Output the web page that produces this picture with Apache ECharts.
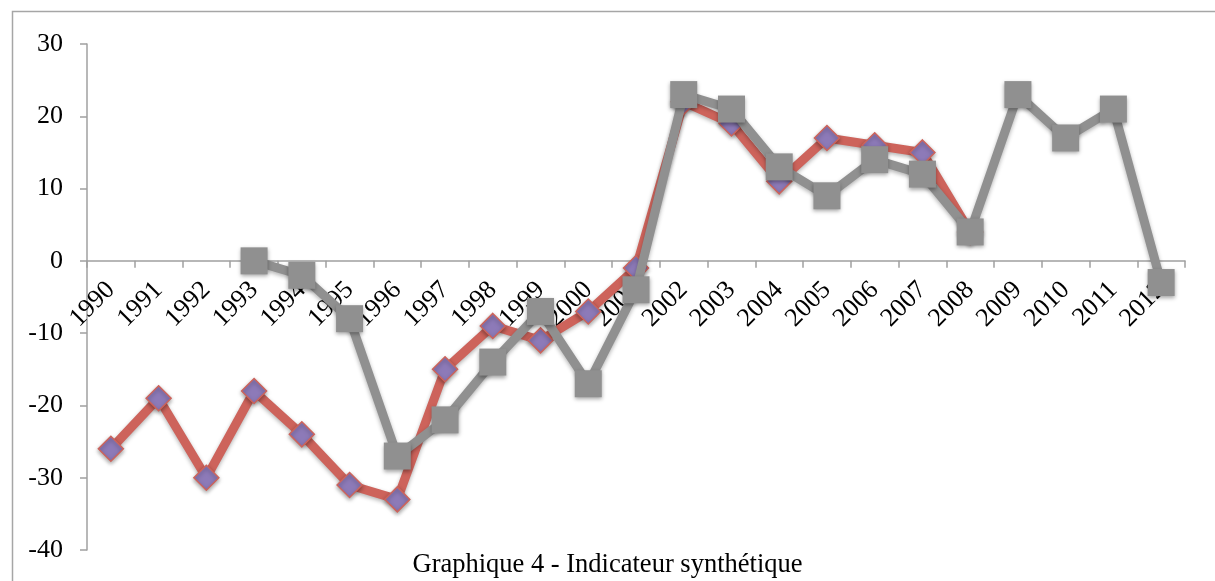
<!DOCTYPE html>
<html>
<head>
<meta charset="utf-8">
<title>Graphique 4</title>
<style>
  html, body { margin: 0; width: 100%; height: 100%; background: #fff; }
  #chart { width: 1215px; height: 581px; }
</style>
</head>
<body>
<div id="chart"></div>
<script src="https://cdn.jsdelivr.net/npm/echarts@6/dist/echarts.min.js"></script>
<script>
const years = ['1990','1991','1992','1993','1994','1995','1996','1997','1998','1999','2000','2001',
               '2002','2003','2004','2005','2006','2007','2008','2009','2010','2011','2012'];
const serieRouge = [-26,-19,-30,-18,-24,-31,-33,-15,-9,-11,-7,-1,22,19,11,17,16,15,4,null,null,null,null];
const serieGrise = [null,null,null,0,-2,-8,-27,-22,-14,-7,-17,-4,23,21,13,9,14,12,4,23,17,21,-3];
const yTicks = { min: -40, max: 30, interval: 10 };
const titre = 'Graphique 4 - Indicateur synthétique';

// grille
const W = 1215, H = 581;
const gTop = 44, gBottom = 31;
const gHeight = H - gTop - gBottom;
// axe des x placé sur le zéro (décalage vers le haut depuis le bas de la grille)
const zeroOffset = -gHeight * (0 - yTicks.min) / (yTicks.max - yTicks.min);

const chart = echarts.init(document.getElementById('chart'));
chart.setOption({
  animation: false,
  textStyle: { fontFamily: 'Liberation Serif' },
  graphic: [
    { type: 'rect', left: 10, top: 9, shape: { width: 1220, height: 590 },
      style: { fill: 'none', stroke: '#a6a6a6', lineWidth: 1.5 }, z: -1 },
    { type: 'text', left: 'center', top: 552,
      style: { text: titre, fontFamily: 'Liberation Serif', fontSize: 26.5, fill: '#000' } }
  ],
  grid: { left: 87, right: 30, top: gTop, bottom: gBottom, outerBoundsMode: 'none', containLabel: false },
  xAxis: {
    type: 'category',
    data: years,
    boundaryGap: true,
    position: 'bottom',
    offset: zeroOffset,
    axisLine: { onZero: false, lineStyle: { color: '#a0a0a0', width: 1.5 } },
    axisTick: { show: true, length: 7, lineStyle: { color: '#a0a0a0', width: 1.5 } },
    axisLabel: { rotate: 45, margin: 25, color: '#000', fontSize: 26, fontFamily: 'Liberation Serif', interval: 0, hideOverlap: false },
    splitLine: { show: false }
  },
  yAxis: {
    type: 'value',
    min: yTicks.min, max: yTicks.max, interval: yTicks.interval,
    axisLine: { show: true, lineStyle: { color: '#a0a0a0', width: 1.5 } },
    axisTick: { show: true, length: 7, lineStyle: { color: '#a0a0a0', width: 1.5 } },
    axisLabel: { color: '#000', fontSize: 26, margin: 24, fontFamily: 'Liberation Serif' },
    splitLine: { show: false }
  },
  series: [
    {
      type: 'line',
      data: serieRouge,
      symbol: 'diamond',
      symbolSize: 25,
      lineStyle: { color: '#cd635b', width: 9, shadowColor: 'rgba(0,0,0,0.3)', shadowBlur: 4, shadowOffsetY: 2 },
      itemStyle: { color: '#8d7ab8', borderColor: '#cd635b', borderWidth: 1.5,
                   shadowColor: 'rgba(0,0,0,0.35)', shadowBlur: 4, shadowOffsetY: 2 },
      z: 2
    },
    {
      type: 'line',
      data: serieGrise,
      symbol: 'rect',
      symbolSize: 27,
      lineStyle: { color: '#909090', width: 9, shadowColor: 'rgba(0,0,0,0.3)', shadowBlur: 4, shadowOffsetY: 2 },
      itemStyle: { color: '#909090', borderWidth: 0,
                   shadowColor: 'rgba(0,0,0,0.35)', shadowBlur: 4, shadowOffsetY: 2 },
      z: 3
    }
  ]
});
</script>
</body>
</html>
